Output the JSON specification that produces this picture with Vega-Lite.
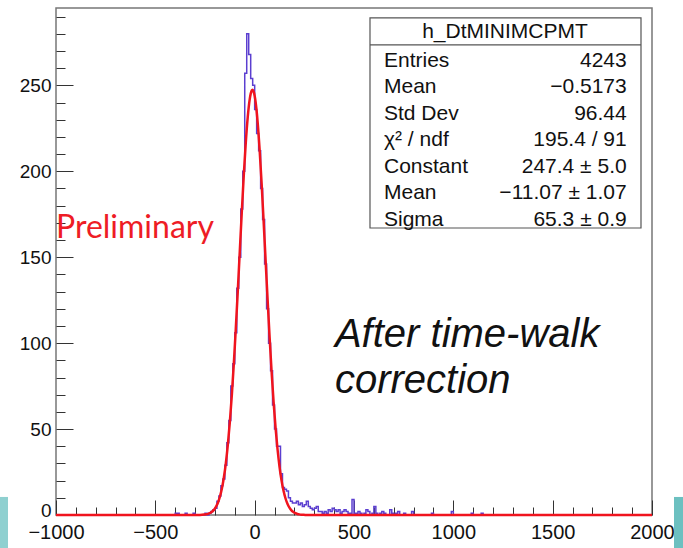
{
  "$schema": "https://vega.github.io/schema/vega-lite/v6.json",
  "width": 596,
  "height": 507,
  "autosize": {"type": "none"},
  "padding": {"left": 56, "top": 8, "right": 31, "bottom": 33},
  "background": "white",
  "config": {
    "view": {"stroke": "#777777", "strokeWidth": 1.5},
    "axis": {"grid": false, "domain": false, "title": null}
  },
  "resolve": {"scale": {"x": "shared", "y": "shared"}, "axis": {"x": "independent", "y": "independent"}},
  "datasets": {
    "hist": [
      {"bin": -415, "count": 0}, {"bin": -405, "count": 0}, {"bin": -395, "count": 1}, {"bin": -385, "count": 1},
      {"bin": -375, "count": 0}, {"bin": -355, "count": 0}, {"bin": -345, "count": 1}, {"bin": -335, "count": 0},
      {"bin": -315, "count": 0}, {"bin": -305, "count": 1}, {"bin": -295, "count": 0}, {"bin": -255, "count": 0},
      {"bin": -245, "count": 1}, {"bin": -235, "count": 0}, {"bin": -225, "count": 1}, {"bin": -215, "count": 2},
      {"bin": -205, "count": 3}, {"bin": -195, "count": 4}, {"bin": -185, "count": 8}, {"bin": -175, "count": 11},
      {"bin": -165, "count": 17}, {"bin": -155, "count": 21}, {"bin": -145, "count": 29}, {"bin": -135, "count": 42},
      {"bin": -125, "count": 55}, {"bin": -115, "count": 75}, {"bin": -105, "count": 88}, {"bin": -95, "count": 106},
      {"bin": -85, "count": 132}, {"bin": -75, "count": 150}, {"bin": -65, "count": 178}, {"bin": -55, "count": 200},
      {"bin": -45, "count": 257}, {"bin": -35, "count": 280}, {"bin": -25, "count": 268}, {"bin": -15, "count": 254},
      {"bin": -5, "count": 250}, {"bin": 5, "count": 236}, {"bin": 15, "count": 222}, {"bin": 25, "count": 212},
      {"bin": 35, "count": 190}, {"bin": 45, "count": 172}, {"bin": 55, "count": 146}, {"bin": 65, "count": 120},
      {"bin": 75, "count": 100}, {"bin": 85, "count": 84}, {"bin": 95, "count": 64}, {"bin": 105, "count": 50},
      {"bin": 115, "count": 40}, {"bin": 125, "count": 40}, {"bin": 135, "count": 24}, {"bin": 145, "count": 16},
      {"bin": 155, "count": 15}, {"bin": 165, "count": 14}, {"bin": 175, "count": 10}, {"bin": 185, "count": 8},
      {"bin": 195, "count": 7}, {"bin": 205, "count": 7}, {"bin": 215, "count": 8}, {"bin": 225, "count": 6},
      {"bin": 235, "count": 7}, {"bin": 245, "count": 5}, {"bin": 255, "count": 6}, {"bin": 265, "count": 8},
      {"bin": 275, "count": 5}, {"bin": 285, "count": 4}, {"bin": 295, "count": 3}, {"bin": 305, "count": 4},
      {"bin": 315, "count": 5}, {"bin": 325, "count": 2}, {"bin": 335, "count": 2}, {"bin": 345, "count": 1},
      {"bin": 355, "count": 2}, {"bin": 365, "count": 1}, {"bin": 375, "count": 3}, {"bin": 385, "count": 2},
      {"bin": 395, "count": 4}, {"bin": 405, "count": 3}, {"bin": 415, "count": 2}, {"bin": 425, "count": 3},
      {"bin": 435, "count": 1}, {"bin": 445, "count": 2}, {"bin": 455, "count": 3}, {"bin": 465, "count": 2},
      {"bin": 475, "count": 1}, {"bin": 485, "count": 1}, {"bin": 495, "count": 9}, {"bin": 505, "count": 1},
      {"bin": 515, "count": 1}, {"bin": 525, "count": 2}, {"bin": 535, "count": 1}, {"bin": 545, "count": 0},
      {"bin": 555, "count": 1}, {"bin": 565, "count": 3}, {"bin": 575, "count": 2}, {"bin": 585, "count": 0},
      {"bin": 595, "count": 1}, {"bin": 605, "count": 5}, {"bin": 615, "count": 1}, {"bin": 625, "count": 0},
      {"bin": 635, "count": 1}, {"bin": 645, "count": 2}, {"bin": 655, "count": 1}, {"bin": 665, "count": 0},
      {"bin": 675, "count": 0}, {"bin": 685, "count": 3}, {"bin": 695, "count": 1}, {"bin": 705, "count": 0},
      {"bin": 715, "count": 1}, {"bin": 725, "count": 2}, {"bin": 735, "count": 0}, {"bin": 745, "count": 0},
      {"bin": 755, "count": 1}, {"bin": 765, "count": 0}, {"bin": 785, "count": 0}, {"bin": 795, "count": 2},
      {"bin": 805, "count": 0}, {"bin": 885, "count": 0}, {"bin": 895, "count": 1}, {"bin": 905, "count": 0},
      {"bin": 985, "count": 0}, {"bin": 995, "count": 2}, {"bin": 1005, "count": 0}, {"bin": 1085, "count": 0},
      {"bin": 1095, "count": 1}, {"bin": 1105, "count": 0}, {"bin": 1135, "count": 0}, {"bin": 1145, "count": 1},
      {"bin": 1155, "count": 0}, {"bin": 1995, "count": 0}
    ],
    "fit": [
      {"t": -1000, "f": 0}, {"t": -305, "f": 0.01}, {"t": -295, "f": 0.02}, {"t": -285, "f": 0.04},
      {"t": -275, "f": 0.07}, {"t": -265, "f": 0.13}, {"t": -255, "f": 0.23}, {"t": -245, "f": 0.4},
      {"t": -235, "f": 0.69}, {"t": -225, "f": 1.16}, {"t": -215, "f": 1.89}, {"t": -205, "f": 3.0},
      {"t": -195, "f": 4.68}, {"t": -185, "f": 7.13}, {"t": -175, "f": 10.6}, {"t": -165, "f": 15.4},
      {"t": -155, "f": 21.8}, {"t": -145, "f": 30.2}, {"t": -135, "f": 40.9}, {"t": -125, "f": 54.0},
      {"t": -115, "f": 69.7}, {"t": -105, "f": 87.9}, {"t": -95, "f": 108.3}, {"t": -85, "f": 130.3},
      {"t": -75, "f": 153.2}, {"t": -65, "f": 175.9}, {"t": -55, "f": 197.3}, {"t": -45, "f": 216.2},
      {"t": -35, "f": 231.3}, {"t": -25, "f": 241.8}, {"t": -15, "f": 246.9}, {"t": -11, "f": 247.4},
      {"t": -5, "f": 246.3}, {"t": 5, "f": 240.0}, {"t": 15, "f": 228.5}, {"t": 25, "f": 212.4},
      {"t": 35, "f": 192.9}, {"t": 45, "f": 171.1}, {"t": 55, "f": 148.3}, {"t": 65, "f": 125.5},
      {"t": 75, "f": 103.8}, {"t": 85, "f": 83.8}, {"t": 95, "f": 66.1}, {"t": 105, "f": 51.0},
      {"t": 115, "f": 38.4}, {"t": 125, "f": 28.2}, {"t": 135, "f": 20.3}, {"t": 145, "f": 14.2},
      {"t": 155, "f": 9.75}, {"t": 165, "f": 6.52}, {"t": 175, "f": 4.27}, {"t": 185, "f": 2.73},
      {"t": 195, "f": 1.7}, {"t": 205, "f": 1.04}, {"t": 215, "f": 0.61}, {"t": 225, "f": 0.36},
      {"t": 235, "f": 0.2}, {"t": 245, "f": 0.11}, {"t": 255, "f": 0.05}, {"t": 2000, "f": 0}
    ],
    "stats": [
      {
        "title": "h_DtMINIMCPMT",
        "labels": "Entries\nMean\nStd Dev\nχ² / ndf\nConstant\nMean\nSigma",
        "values": "4243\n−0.5173\n96.44\n195.4 / 91\n247.4 ± 5.0\n−11.07 ± 1.07\n65.3 ± 0.9"
      }
    ],
    "notes": [
      {"prelim": "Preliminary", "remark": "After time-walk\ncorrection"}
    ]
  },
  "layer": [
    {
      "data": {"name": "hist"},
      "mark": {"type": "line", "interpolate": "step", "color": "#5b3fd0", "strokeWidth": 1.5},
      "encoding": {
        "x": {
          "field": "bin", "type": "quantitative",
          "scale": {"domain": [-1000, 2000], "nice": false, "zero": false},
          "axis": {
            "title": null,
            "orient": "bottom",
            "format": "d",
            "values": [-1000, -900, -800, -700, -600, -500, -400, -300, -200, -100, 0, 100, 200, 300, 400, 500, 600, 700, 800, 900, 1000, 1100, 1200, 1300, 1400, 1500, 1600, 1700, 1800, 1900, 2000],
            "labelExpr": "datum.value % 500 === 0 ? datum.label : ''",
            "tickSize": {"condition": {"test": "datum.value % 500 === 0", "value": -15}, "value": -8},
            "tickColor": "#333333",
            "labelPadding": 22,
            "labelFont": "Liberation Sans",
            "labelFontSize": 20,
            "labelColor": "#111111",
            "labelFlush": false,
            "labelOverlap": false
          }
        },
        "y": {
          "field": "count", "type": "quantitative",
          "scale": {"domain": [0, 295], "nice": false},
          "axis": {
            "title": null,
            "orient": "left",
            "format": "d",
            "values": [0, 10, 20, 30, 40, 50, 60, 70, 80, 90, 100, 110, 120, 130, 140, 150, 160, 170, 180, 190, 200, 210, 220, 230, 240, 250, 260, 270, 280, 290],
            "labelExpr": "datum.value % 50 === 0 ? datum.label : ''",
            "tickSize": {"condition": {"test": "datum.value % 50 === 0", "value": -17}, "value": -9},
            "labelOffset": {"condition": {"test": "datum.value === 0", "value": -5}, "value": 0},
            "tickColor": "#333333",
            "labelPadding": 22,
            "labelFont": "Liberation Sans",
            "labelFontSize": 19,
            "labelColor": "#111111",
            "labelFlush": false,
            "labelOverlap": false
          }
        }
      }
    },
    {
      "data": {"values": [{}]},
      "mark": {"type": "rect", "color": "#8fd0d0"},
      "encoding": {
        "x": {"datum": -1282, "type": "quantitative", "axis": null},
        "x2": {"datum": -1241.6},
        "y": {"datum": 10.5, "type": "quantitative", "axis": null},
        "y2": {"datum": -19.2}
      }
    },
    {
      "data": {"values": [{}]},
      "mark": {"type": "rect", "color": "#6cc0c0"},
      "encoding": {
        "x": {"datum": 2110.7, "type": "quantitative", "axis": null},
        "x2": {"datum": 2160},
        "y": {"datum": 10.5, "type": "quantitative", "axis": null},
        "y2": {"datum": -19.2}
      }
    },
    {
      "data": {"values": [{}]},
      "mark": {"type": "rect", "fill": "white", "stroke": "#555555", "strokeWidth": 1.2},
      "encoding": {
        "x": {"datum": 580.5, "type": "quantitative", "axis": null},
        "x2": {"datum": 1944.6},
        "y": {"datum": 167, "type": "quantitative", "axis": null},
        "y2": {"datum": 289.2}
      }
    },
    {
      "data": {"values": [{}]},
      "mark": {"type": "rule", "color": "#555555", "strokeWidth": 1.2},
      "encoding": {
        "x": {"datum": 580.5, "type": "quantitative", "axis": null},
        "x2": {"datum": 1944.6},
        "y": {"datum": 273.5, "type": "quantitative", "axis": null}
      }
    },
    {
      "data": {"name": "fit"},
      "mark": {"type": "line", "interpolate": "monotone", "color": "#f0141e", "strokeWidth": 2.5},
      "encoding": {
        "x": {"field": "t", "type": "quantitative", "axis": null},
        "y": {"field": "f", "type": "quantitative", "axis": null}
      }
    },
    {
      "data": {"name": "stats"},
      "mark": {"type": "text", "font": "Liberation Sans", "fontSize": 21, "color": "#111111", "align": "center", "baseline": "alphabetic"},
      "encoding": {
        "x": {"datum": 1260, "type": "quantitative", "axis": null},
        "y": {"datum": 277.6, "type": "quantitative", "axis": null},
        "text": {"field": "title"}
      }
    },
    {
      "data": {"name": "stats"},
      "mark": {"type": "text", "font": "Liberation Sans", "fontSize": 21, "color": "#111111", "align": "left", "baseline": "alphabetic", "lineBreak": "\n", "lineHeight": 26.5},
      "encoding": {
        "x": {"datum": 651, "type": "quantitative", "axis": null},
        "y": {"datum": 260.7, "type": "quantitative", "axis": null},
        "text": {"field": "labels"}
      }
    },
    {
      "data": {"name": "stats"},
      "mark": {"type": "text", "font": "Liberation Sans", "fontSize": 21, "color": "#111111", "align": "right", "baseline": "alphabetic", "lineBreak": "\n", "lineHeight": 26.5},
      "encoding": {
        "x": {"datum": 1872.6, "type": "quantitative", "axis": null},
        "y": {"datum": 260.7, "type": "quantitative", "axis": null},
        "text": {"field": "values"}
      }
    },
    {
      "data": {"name": "notes"},
      "mark": {"type": "text", "font": "Lato", "fontSize": 32, "color": "#ee1c25", "align": "left", "baseline": "alphabetic"},
      "encoding": {
        "x": {"datum": -1000, "type": "quantitative", "axis": null},
        "y": {"datum": 161.2, "type": "quantitative", "axis": null},
        "text": {"field": "prelim"}
      }
    },
    {
      "data": {"name": "notes"},
      "mark": {"type": "text", "font": "Liberation Sans", "fontSize": 40, "fontStyle": "italic", "color": "#111111", "align": "left", "baseline": "alphabetic", "lineBreak": "\n", "lineHeight": 46},
      "encoding": {
        "x": {"datum": 404, "type": "quantitative", "axis": null},
        "y": {"datum": 97.75, "type": "quantitative", "axis": null},
        "text": {"field": "remark"}
      }
    }
  ]
}
